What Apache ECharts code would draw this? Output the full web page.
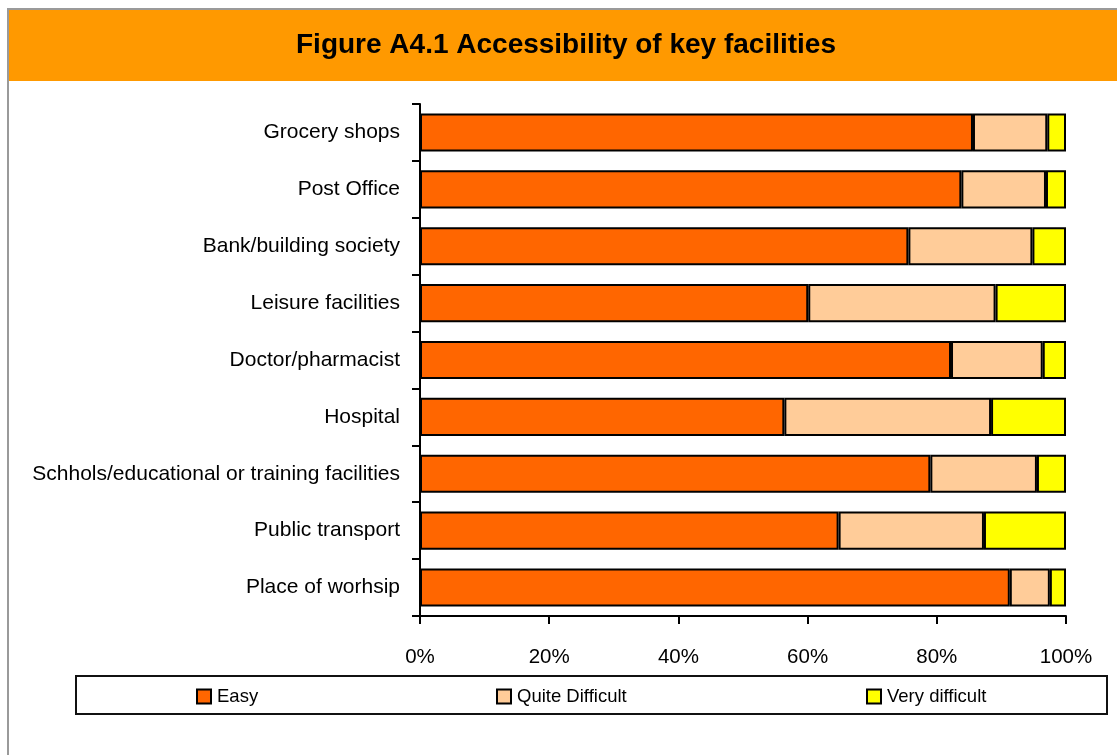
<!DOCTYPE html>
<html>
<head>
<meta charset="utf-8">
<script src="https://cdn.jsdelivr.net/npm/echarts@6/dist/echarts.min.js"></script>
<style>
  html, body { margin: 0; padding: 0; background: #ffffff; }
  #chart { width: 1117px; height: 755px; }
</style>
</head>
<body>
<div id="chart"></div>
<script>
// Facilities, listed top to bottom
const categories = [
  'Grocery shops',
  'Post Office',
  'Bank/building society',
  'Leisure facilities',
  'Doctor/pharmacist',
  'Hospital',
  'Schhols/educational or training facilities',
  'Public transport',
  'Place of worhsip'
];
// Share of respondents (%) per level of difficulty
const easy           = [85.6, 83.8, 75.6, 60.1, 82.2, 56.4, 79.0, 64.8, 91.3];
const quiteDifficult = [11.5, 13.1, 19.2, 29.0, 14.2, 32.0, 16.5, 22.5, 6.2];
const veryDifficult  = [2.9, 3.1, 5.2, 10.9, 3.6, 11.6, 4.5, 12.7, 2.5];
const xTicks = [0, 20, 40, 60, 80, 100];

const FONT = '"Liberation Sans", Arial, sans-serif';
const chart = echarts.init(document.getElementById('chart'), null, { renderer: 'canvas' });

function barSeries(name, data, color) {
  return {
    name: name,
    type: 'bar',
    stack: 'total',
    data: data,
    barCategoryGap: '33%',
    itemStyle: { color: color, borderColor: '#000000', borderWidth: 2 },
    emphasis: { disabled: true }
  };
}

const legendBase = {
  top: 687,
  padding: 0,
  icon: 'rect',
  itemWidth: 14,
  itemHeight: 14,
  itemGap: 0,
  textStyle: { fontFamily: FONT, fontSize: 18.5, color: '#000000', padding: [0, 0, 0, 1] },
  selectedMode: false
};

chart.setOption({
  animation: false,
  backgroundColor: '#ffffff',
  textStyle: { fontFamily: FONT },
  graphic: [
    // outer frame
    { type: 'rect', shape: { x: 8, y: 9, width: 1200, height: 800 },
      style: { fill: 'none', stroke: '#9a9a9a', lineWidth: 2 }, silent: true, z: 0 },
    // title banner
    { type: 'rect', shape: { x: 9, y: 10, width: 1200, height: 71 },
      style: { fill: '#FF9900' }, silent: true, z: 1 },
    { type: 'text', x: 566, y: 45,
      style: { text: 'Figure A4.1 Accessibility of key facilities', fill: '#000000',
               font: 'bold 28px ' + FONT, textAlign: 'center', textVerticalAlign: 'middle' },
      silent: true, z: 2 },
    // legend frame
    { type: 'rect', shape: { x: 76, y: 676, width: 1031, height: 38 },
      style: { fill: 'none', stroke: '#111111', lineWidth: 2 }, silent: true, z: 1 }
  ],
  legend: [
    Object.assign({}, legendBase, { data: ['Easy'], left: 196 }),
    Object.assign({}, legendBase, { data: ['Quite Difficult'], left: 496 }),
    Object.assign({}, legendBase, { data: ['Very difficult'], left: 866 })
  ],
  grid: { left: 420, right: 51, top: 104, bottom: 139, containLabel: false },
  xAxis: {
    type: 'value',
    min: xTicks[0],
    max: xTicks[xTicks.length - 1],
    interval: xTicks[1] - xTicks[0],
    axisLine: { show: true, lineStyle: { color: '#000000', width: 2 } },
    axisTick: { show: true, inside: false, length: 8, lineStyle: { color: '#000000', width: 2 } },
    axisLabel: { formatter: '{value}%', fontFamily: FONT, fontSize: 20.5, color: '#000000', margin: 31 },
    splitLine: { show: false }
  },
  yAxis: {
    type: 'category',
    data: categories,
    inverse: true,
    axisLine: { show: true, lineStyle: { color: '#000000', width: 2 } },
    axisTick: { show: true, inside: false, length: 8, lineStyle: { color: '#000000', width: 2 } },
    axisLabel: { fontFamily: FONT, fontSize: 21, color: '#000000', margin: 20, padding: [3, 0, 0, 0] },
    splitLine: { show: false }
  },
  series: [
    barSeries('Easy', easy, '#FF6600'),
    barSeries('Quite Difficult', quiteDifficult, '#FFCC99'),
    barSeries('Very difficult', veryDifficult, '#FFFF00')
  ]
});
</script>
</body>
</html>
